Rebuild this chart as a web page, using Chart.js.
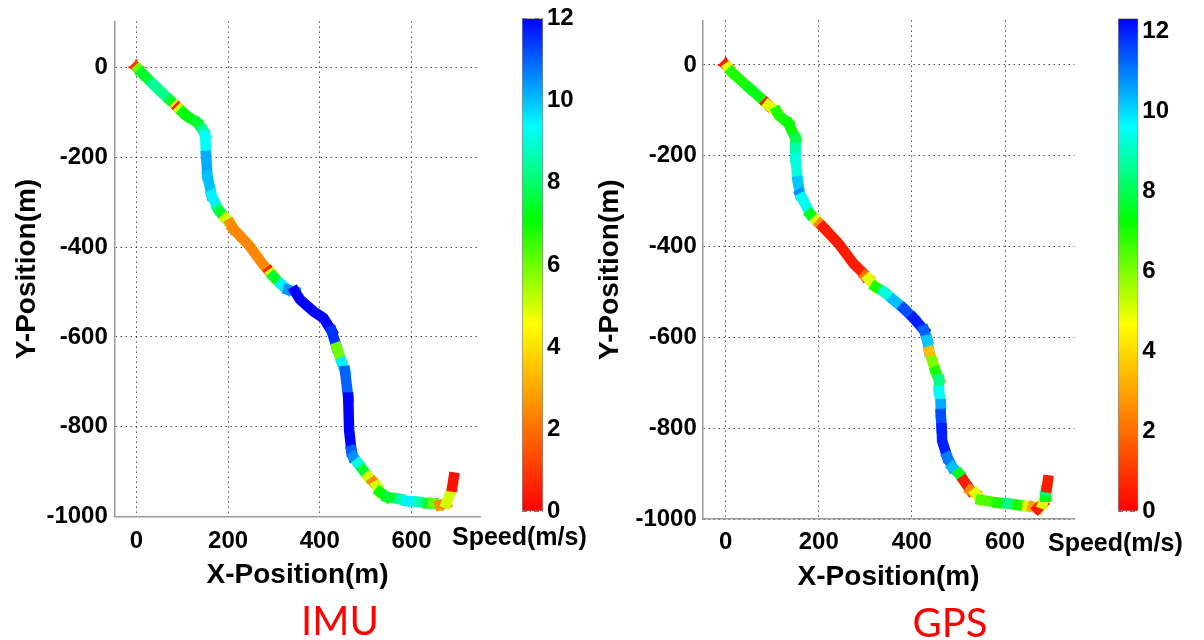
<!DOCTYPE html>
<html>
<head>
<meta charset="utf-8">
<script src="https://cdn.jsdelivr.net/npm/chart.js@4/dist/chart.umd.min.js"></script>
<style>
html,body{margin:0;padding:0;background:#fff;width:1204px;height:640px;overflow:hidden;position:relative;}
canvas{position:absolute;}
.lbl{position:absolute;white-space:nowrap;font-family:'Liberation Sans',Arial,sans-serif;font-weight:bold;color:#000;font-size:25px;line-height:25px;}
.cap{position:absolute;white-space:nowrap;font-family:Lato,'Open Sans',sans-serif;color:#ff0000;font-size:40px;line-height:40px;transform:translateX(-50%);}
</style>
</head>
<body>
<canvas id="imu" width="500" height="600" style="left:0;top:0"></canvas>
<canvas id="imuBar" width="80" height="530" style="left:522px;top:0"></canvas>
<canvas id="gps" width="500" height="600" style="left:590px;top:0"></canvas>
<canvas id="gpsBar" width="86" height="530" style="left:1118px;top:0"></canvas>
<div class="lbl" id="spdL" style="left:452px;top:524px">Speed(m/s)</div>
<div class="lbl" id="spdR" style="left:1048px;top:530px">Speed(m/s)</div>
<div class="cap" style="left:340px;top:600px">IMU</div>
<div class="cap" style="left:950px;top:602px">GPS</div>
<script>
// ---- data ----
const xTicks = [0, 200, 400, 600];
const yTicks = [-1000, -800, -600, -400, -200, 0];
const speedTicks = [0, 2, 4, 6, 8, 10, 12];

const imuX = [0,5,12,37,52,75,88,92,96,102, 110,132,145,150,152,155,164,178,183,195, 205,211,248,277,291,295,299,317,331,346, 357,386,408,426,437,448,455,462,464,469, 473,484,495,506,517,524,531,546,575,589, 615,635,647,662,676,682,687,689,692];
const imuY = [0,-5,-13,-38,-53,-75,-87,-91,-95,-101, -108,-123,-140,-152,-197,-241,-285,-315,-322,-337, -348,-359,-399,-440,-455,-460,-466,-484,-495,-499, -517,-543,-558,-587,-624,-657,-676,-735,-808,-853, -867,-882,-897,-912,-923,-932,-945,-956,-961,-965, -967,-970,-970,-974,-970,-955,-941,-933,-913];
const imuSpeed = [1,6,7.5,8.5,8.3,7.5,4,0.5,5,7, 7.2,7.5,8.5,9.3,10.2,10,9.5,8.5,7.5,5, 2.6,2.4,2.4,2.4,0.5,5,7.5,9.5,10.5,12, 12,12,12,11.5,6,9.5,11,12,12,11, 10.5,9,7.5,5,2.5,5,7,7.5,8.5,9.5, 8.7,7.5,6,2.5,5,5,5,0.3,0.3];

const gpsX = [0,6,13,52,84,88,92,110,114,135, 150,150,150,155,160,164,182,196,203,210, 243,275,297,300,307,322,340,361,383,404, 426,433,437,444,451,458,458,462,462,464, 465,476,487,501,512,526,537,548,584,605, 627,648,659,670,681,686,688,690,692];
const gpsY = [0,-6,-16,-52,-81,-85,-89,-103,-111,-129, -162,-183,-205,-256,-285,-293,-329,-343,-351,-358, -394,-438,-460,-465,-471,-489,-500,-518,-537,-558, -584,-606,-631,-652,-675,-693,-718,-747,-769,-800, -828,-864,-886,-900,-916,-937,-944,-958,-964,-966, -969,-972,-973,-977,-966,-951,-937,-930,-915];
const gpsSpeed = [0.5,5,7,7.5,7,0.5,5,7,7,7.2, 8,8.8,9.3,10.2,10.8,9.5,7.5,5,2.5,0.5, 0.5,0.5,0.5,2,5,7,9.3,10.3,11.5,12, 11.3,10.2,3.5,6,7,8.5,9.5,10.5,11.5,12, 12,11,10.3,7.5,0.5,2.5,5,6.5,7,8.5, 7,5,3,0.5,5,7.5,8.5,0.5,0.5];

const imuSpeedMax = 12;
const gpsSpeedMax = 12.32;

// ---- colour map (red -> yellow -> green -> cyan -> blue) ----
const cmapStops = [0, 0.38, 0.59, 0.78, 1];
const cmapRGB = [[255,0,0],[255,255,0],[0,255,0],[0,255,255],[0,0,255]];
function speedColor(v, vmax) {
  let t = Math.max(0, Math.min(1, v / vmax));
  for (let i = 1; i < cmapStops.length; i++) {
    if (t <= cmapStops[i]) {
      const f = (t - cmapStops[i-1]) / (cmapStops[i] - cmapStops[i-1]);
      const a = cmapRGB[i-1], b = cmapRGB[i];
      return 'rgb(' + a.map((c,k)=>Math.round(c + (b[k]-c)*f)).join(',') + ')';
    }
  }
  return 'rgb(0,0,255)';
}

Chart.defaults.font.family = "'Liberation Sans', Arial, sans-serif";
Chart.defaults.font.weight = 'bold';
Chart.defaults.color = '#000';

const plainLabel = v => String(v);

function mainChart(id, xs, ys, sp, vmax, cfg) {
  const pts = xs.map((x, i) => ({x: x, y: ys[i]}));
  return new Chart(document.getElementById(id), {
    type: 'scatter',
    data: {
      datasets: [
        {
          data: pts, showLine: true, pointRadius: 0, borderWidth: 10.5,
          borderCapStyle: 'square', borderJoinStyle: 'miter', tension: 0,
          borderColor: speedColor(sp[0], vmax),
          segment: { borderColor: c => speedColor(sp[c.p0DataIndex], vmax) }
        },
        {
          data: [pts[0]], pointStyle: 'cross', pointRadius: 8,
          borderColor: '#ff2a00', borderWidth: 2, showLine: false
        }
      ]
    },
    options: {
      responsive: false, animation: false, events: [],
      layout: { padding: { top: cfg.top, right: cfg.right, bottom: 0, left: 0 } },
      plugins: { legend: { display: false }, tooltip: { enabled: false } },
      scales: {
        x: {
          type: 'linear', min: cfg.xmin, max: cfg.xmax,
          afterBuildTicks: s => { s.ticks = xTicks.map(v => ({value: v})); },
          afterFit: s => { s.height = cfg.xh; },
          grid: { color: 'rgba(0,0,0,0.7)', lineWidth: 1, drawTicks: false },
          border: { display: true, color: '#9a9a9a', width: 1.5, dash: [1.5, 3.5] },
          ticks: { padding: cfg.xpad, color: '#000', font: { size: 24, weight: 'bold' }, callback: plainLabel },
          title: { display: true, text: 'X-Position(m)', color: '#000',
                   font: { size: 28, weight: 'bold' }, padding: { top: 0, bottom: cfg.xtp } }
        },
        y: {
          type: 'linear', min: -1000, max: cfg.ymax,
          afterBuildTicks: s => { s.ticks = yTicks.map(v => ({value: v})); },
          afterFit: s => { s.width = cfg.yw; },
          grid: { color: 'rgba(0,0,0,0.7)', lineWidth: 1, drawTicks: false },
          border: { display: true, color: '#9a9a9a', width: 1.5, dash: [1.5, 3.5] },
          ticks: { padding: cfg.ypad, color: '#000', font: { size: 24, weight: 'bold' }, callback: plainLabel },
          title: { display: true, text: 'Y-Position(m)', color: '#000',
                   font: { size: 28, weight: 'bold' }, padding: { top: cfg.ytp, bottom: 0 } }
        }
      }
    }
  });
}

function colorBar(id, vmax, cfg) {
  return new Chart(document.getElementById(id), {
    type: 'bar',
    data: {
      labels: ['Speed'],
      datasets: [{
        data: [[0, vmax]],
        backgroundColor: ctx => {
          const ch = ctx.chart;
          if (!ch.chartArea || !ch.scales.y) return '#0f0';
          const y = ch.scales.y;
          const g = ch.ctx.createLinearGradient(0, y.getPixelForValue(0), 0, y.getPixelForValue(vmax));
          cmapStops.forEach((s, i) => g.addColorStop(s, 'rgb(' + cmapRGB[i].join(',') + ')'));
          return g;
        },
        borderColor: '#8a8a8a', borderWidth: 1, borderSkipped: false,
        barPercentage: 1, categoryPercentage: 1
      }]
    },
    options: {
      responsive: false, animation: false, events: [],
      layout: { padding: { top: cfg.top, bottom: cfg.bottom, left: 0, right: 0 } },
      plugins: { legend: { display: false }, tooltip: { enabled: false } },
      scales: {
        x: { display: false },
        y: {
          position: 'right', min: 0, max: vmax, z: 1,
          afterBuildTicks: s => { s.ticks = speedTicks.map(v => ({value: v})); },
          afterFit: s => { s.width = cfg.yw; },
          grid: { color: 'rgba(0,0,0,0.55)', lineWidth: 1, drawTicks: false },
          border: { display: false, dash: [5, 3, 1, 3] },
          ticks: { padding: 4, color: '#000', font: { size: 24, weight: 'bold' }, callback: plainLabel }
        }
      }
    }
  });
}

mainChart('imu', imuX, imuY, imuSpeed, imuSpeedMax,
  { top: 18, right: 19.7, xmin: -47, xmax: 750, ymax: 102, xh: 83.3, yw: 114.8,
    xpad: 10, xtp: 8, ypad: 7, ytp: 10 });
mainChart('gps', gpsX, gpsY, gpsSpeed, gpsSpeedMax,
  { top: 16, right: 15.6, xmin: -49, xmax: 749, ymax: 98, xh: 81, yw: 112.8,
    xpad: 9, xtp: 6, ypad: 6, ytp: 3 });
colorBar('imuBar', imuSpeedMax, { top: 17.3, bottom: 16.7, yw: 59 });
colorBar('gpsBar', gpsSpeedMax, { top: 11.7, bottom: 12, yw: 65.7 });
</script>
</body>
</html>
